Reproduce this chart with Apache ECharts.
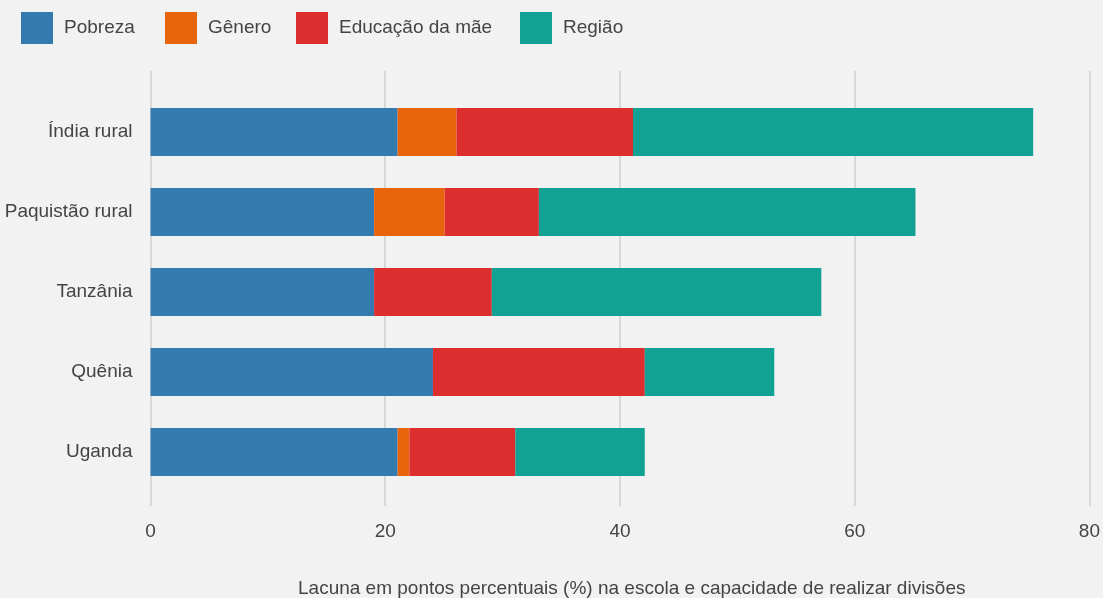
<!DOCTYPE html>
<html>
<head>
<meta charset="utf-8">
<script src="https://cdn.jsdelivr.net/npm/echarts@6/dist/echarts.min.js"></script>
<style>
html,body{margin:0;padding:0;background:#f2f2f2;}
#chart{width:1103px;height:598px;}
</style>
</head>
<body>
<div id="chart"></div>
<script>
const categories = ['Índia rural', 'Paquistão rural', 'Tanzânia', 'Quênia', 'Uganda'];
const seriesNames = ['Pobreza', 'Gênero', 'Educação da mãe', 'Região'];
const pobreza = [21, 19, 19, 24, 21];
const genero = [5, 6, 0, 0, 1];
const educacao = [15, 8, 10, 18, 9];
const regiao = [34, 32, 28, 11, 11];
const xTicks = [0, 20, 40, 60, 80];
const axisTitle = 'Lacuna em pontos percentuais (%) na escola e capacidade de realizar divisões';

const colors = ['#337bae', '#e8650c', '#dc2d2f', '#11a294'];
const font = '"Liberation Sans", Arial, Helvetica, sans-serif';
const textColor = '#444444';
const fs = 19;
const values = [pobreza, genero, educacao, regiao];
const legendLeft = [21, 165, 296, 520];

const chart = echarts.init(document.getElementById('chart'), null, {renderer: 'canvas'});
const option = {
  backgroundColor: '#f2f2f2',
  animation: false,
  color: colors,
  textStyle: {fontFamily: font, color: textColor},
  legend: seriesNames.map((n, i) => ({
    data: [n],
    left: legendLeft[i],
    top: 12,
    padding: 0,
    itemWidth: 32,
    itemHeight: 32,
    icon: 'rect',
    selectedMode: false,
    textStyle: {fontFamily: font, fontSize: fs, color: textColor, padding: [0, 0, 0, 6]}
  })),
  title: {
    text: axisTitle,
    left: 298,
    top: 579,
    padding: 0,
    textStyle: {fontFamily: font, fontSize: fs, fontWeight: 'normal', color: textColor}
  },
  grid: [
    {left: 150.5, right: 11, top: 92, bottom: 106},
    {left: 150.5, right: 11, top: 71, bottom: 92}
  ],
  xAxis: [
    {
      gridIndex: 0, type: 'value', min: xTicks[0], max: xTicks[xTicks.length - 1], interval: 20,
      axisLine: {show: false}, axisTick: {show: false}, axisLabel: {show: false}, splitLine: {show: false}
    },
    {
      gridIndex: 1, type: 'value', min: xTicks[0], max: xTicks[xTicks.length - 1], interval: 20,
      axisLine: {show: false}, axisTick: {show: false},
      axisLabel: {show: true, fontFamily: font, fontSize: fs, color: textColor, margin: 16,
        formatter: v => xTicks.includes(v) ? String(v) : ''},
      splitLine: {show: true, lineStyle: {color: '#cfcfcf', width: 1.5}}
    }
  ],
  yAxis: [
    {
      gridIndex: 0, type: 'category', data: categories, inverse: true,
      axisLine: {show: false}, axisTick: {show: false},
      axisLabel: {fontFamily: font, fontSize: fs, color: textColor, margin: 18}
    },
    {
      gridIndex: 1, type: 'value', min: 0, max: 1, show: false
    }
  ],
  series: seriesNames.map((n, i) => ({
    name: n,
    type: 'bar',
    stack: 'total',
    xAxisIndex: 0,
    yAxisIndex: 0,
    barWidth: 48,
    data: values[i],
    itemStyle: {color: colors[i]},
    emphasis: {disabled: true}
  }))
};
chart.setOption(option);
</script>
</body>
</html>
